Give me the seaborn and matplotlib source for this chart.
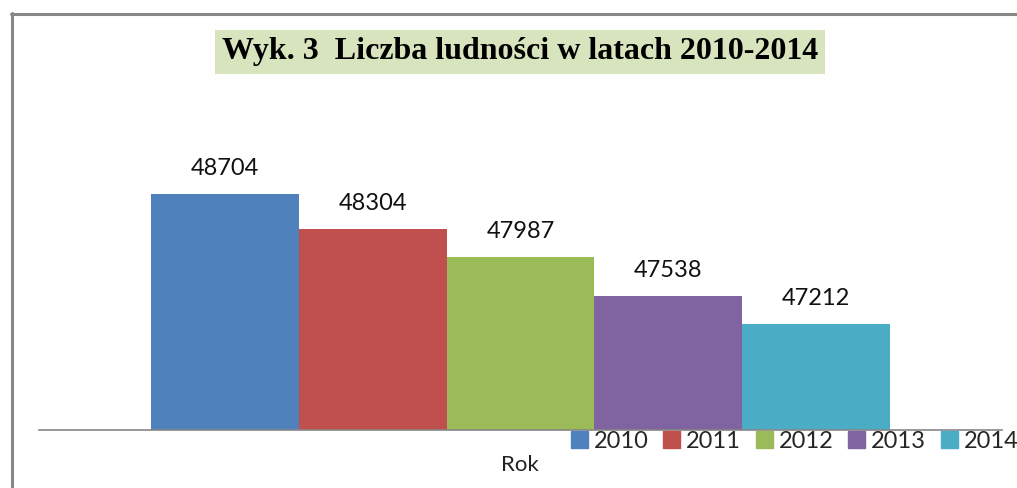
import pandas as pd
import matplotlib
matplotlib.use("Agg")
import matplotlib.pyplot as plt
import matplotlib.patches as mpatches
import seaborn as sns

# data
years = ["2010", "2011", "2012", "2013", "2014"]
population = [48704, 48304, 47987, 47538, 47212]
category = "Rok"
colors = ["#4F81BD", "#C0504D", "#9BBB59", "#8064A2", "#4BACC6"]

W, H = 1017, 488
df = pd.DataFrame({"cat": [category] * len(years), "rok": years, "ludnosc": population})

sns.set_theme(style="white")
plt.rcParams["font.family"] = ["Lato", "DejaVu Sans"]

fig = plt.figure(figsize=(W / 100, H / 100), dpi=100)
fig.patch.set_facecolor("white")

# axes box in pixel terms: x 39..1002, y 100..430
ax = fig.add_axes([39 / W, 1 - 430 / H, (1002 - 39) / W, (430 - 100) / H])
sns.barplot(data=df, x="cat", y="ludnosc", hue="rok", palette=colors,
            width=1, dodge=True, saturation=1, legend=False, linewidth=0, ax=ax)

ax.set_ylim(46000, 49787)
ax.set_xlim(-0.6516, 0.6516)
for c in ax.containers:
    ax.bar_label(c, fmt="%d", padding=11, fontsize=17, color="#111111")

for s in ["top", "left", "right"]:
    ax.spines[s].set_visible(False)
ax.spines["bottom"].set_color("#868686")
ax.spines["bottom"].set_linewidth(1.2)
ax.set_xticks([])
ax.set_yticks([])
ax.set_xlabel("")
ax.set_ylabel("")

# legend under the axis line
handles = [mpatches.Patch(color=c, label=y) for c, y in zip(colors, years)]
fig.legend(handles=handles, loc="upper left", bbox_to_anchor=(571 / W, 1 - 431 / H),
           ncol=5, frameon=False, fontsize=17, handlelength=0.72, handleheight=0.72,
           handletextpad=0.25, columnspacing=0.62, borderpad=0, borderaxespad=0)

fig.text(520 / W, 1 - 465 / H, category, ha="center", va="center", fontsize=16, color="#222222")

# title with green box
fig.text(520 / W, 1 - 52 / H, "Wyk. 3  Liczba ludności w latach 2010-2014",
         ha="center", va="center", fontsize=23, fontweight="bold", color="black",
         family=["Liberation Serif", "DejaVu Serif"],
         bbox=dict(facecolor="#D7E4BD", edgecolor="none", pad=5))

# grey frame at top and left
fig.add_artist(plt.Line2D([11.5 / W, 11.5 / W], [0, 1 - 13 / H], color="#878787", lw=2.2))
fig.add_artist(plt.Line2D([10.5 / W, 1], [1 - 14 / H, 1 - 14 / H], color="#878787", lw=2.2))

fig.savefig("out.png", dpi=100)
